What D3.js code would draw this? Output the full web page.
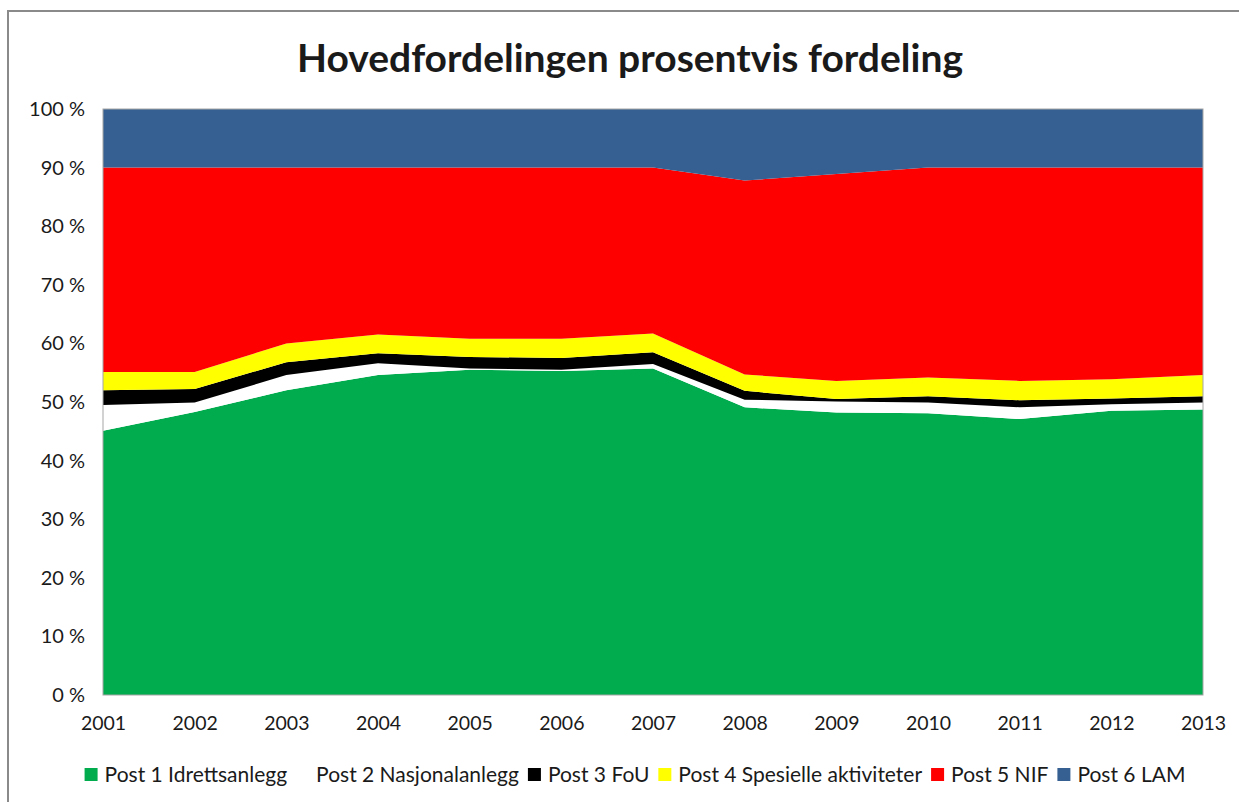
<!DOCTYPE html>
<html>
<head>
<meta charset="utf-8">
<script src="https://cdn.jsdelivr.net/npm/d3@7"></script>
<style>
  body { margin: 0; background: #fff; }
  text { font-family: Lato, "Open Sans", sans-serif; fill: #1a1a1a; }
</style>
</head>
<body>
<script>
var years = ["2001","2002","2003","2004","2005","2006","2007","2008","2009","2010","2011","2012","2013"];
var seriesNames = ["Post 1 Idrettsanlegg","Post 2 Nasjonalanlegg","Post 3 FoU","Post 4 Spesielle aktiviteter","Post 5 NIF","Post 6 LAM"];
var seriesColors = ["#00ac4e","#ffffff","#000000","#ffff00","#ff0000","#376092"];
// share per post, percent
var post1 = [45.1, 48.3, 52.0, 54.6, 55.5, 55.3, 55.7, 49.1, 48.2, 48.1, 47.1, 48.5, 48.7];
var post2 = [ 4.4,  1.6,  2.6,  2.0,  0.2,  0.2,  0.8,  1.3,  1.9,  1.8,  2.0,  1.1,  1.2];
var post3 = [ 2.5,  2.3,  2.2,  1.7,  2.0,  2.0,  2.0,  1.5,  0.4,  1.1,  1.2,  1.0,  1.1];
var post4 = [ 3.1,  2.9,  3.2,  3.2,  3.1,  3.3,  3.2,  2.8,  3.1,  3.2,  3.3,  3.3,  3.6];
var post5 = [34.9, 34.9, 30.0, 28.5, 29.2, 29.2, 28.3, 33.1, 35.3, 35.8, 36.4, 36.1, 35.4];
var post6 = [10.0, 10.0, 10.0, 10.0, 10.0, 10.0, 10.0, 12.2, 11.1, 10.0, 10.0, 10.0, 10.0];
var yTicks = [0, 0.1, 0.2, 0.3, 0.4, 0.5, 0.6, 0.7, 0.8, 0.9, 1];

var width = 1239, height = 802;
var pLeft = 103, pRight = 1203, pTop = 109, pBottom = 695;

var allSeries = [post1, post2, post3, post4, post5, post6];
var rows = years.map(function(y, i){
    var r = {year: y};
    seriesNames.forEach(function(n, k){ r[n] = allSeries[k][i]; });
    return r;
});

var stacked = d3.stack().keys(seriesNames).offset(d3.stackOffsetExpand)(rows);

var svg = d3.select("body").append("svg")
    .attr("width", width)
    .attr("height", height);

svg.append("rect")
    .attr("x", 8).attr("y", 11)
    .attr("width", width + 10).attr("height", height + 10)
    .attr("fill", "#fff").attr("stroke", "#8a8a8a").attr("stroke-width", 2);

var x = d3.scalePoint().domain(years).range([pLeft, pRight]);
var y = d3.scaleLinear().domain([0, 1]).range([pBottom, pTop]);

var area = d3.area()
    .x(function(d){ return x(d.data.year); })
    .y0(function(d){ return y(d[0]); })
    .y1(function(d){ return y(d[1]); });

svg.append("g")
    .selectAll("path")
    .data(stacked).enter()
    .append("path")
    .attr("d", area)
    .attr("fill", function(d, i){ return seriesColors[i]; });

svg.append("rect")
    .attr("x", pLeft).attr("y", pTop)
    .attr("width", pRight - pLeft).attr("height", pBottom - pTop)
    .attr("fill", "none").attr("stroke", "#a6a6a6").attr("stroke-width", 1);

var yAxis = svg.append("g")
    .attr("transform", "translate(" + pLeft + ",0)")
    .call(d3.axisLeft(y).tickValues(yTicks).tickSize(0).tickPadding(18)
        .tickFormat(function(d){ return Math.round(d * 100) + " %"; }));
yAxis.select(".domain").remove();
yAxis.selectAll("text").style("font-size", "20px").attr("fill", "#1a1a1a");

var xAxis = svg.append("g")
    .attr("transform", "translate(0," + pBottom + ")")
    .call(d3.axisBottom(x).tickSize(0).tickPadding(21));
xAxis.select(".domain").remove();
xAxis.selectAll("text").style("font-size", "19.5px").attr("fill", "#1a1a1a");

svg.append("text")
    .attr("x", 630).attr("y", 72)
    .attr("text-anchor", "middle")
    .style("font-size", "39px").style("font-weight", "bold")
    .text("Hovedfordelingen prosentvis fordeling");

// legend
var legend = svg.append("g");
var lx = 0, ly = 782;
var items = [];
seriesNames.forEach(function(n, i){
    var sw = legend.append("rect")
        .attr("y", ly - 14)
        .attr("width", 13).attr("height", 13)
        .attr("fill", seriesColors[i]);
    var t = legend.append("text")
        .attr("y", ly)
        .style("font-size", "21px")
        .text(n);
    items.push({sw: sw, t: t, x: lx});
    lx += 20 + t.node().getComputedTextLength() + 9;
});
var startX = 635 - (lx - 9) / 2;
items.forEach(function(it){
    it.sw.attr("x", startX + it.x);
    it.t.attr("x", startX + it.x + 20);
});
</script>
</body>
</html>
